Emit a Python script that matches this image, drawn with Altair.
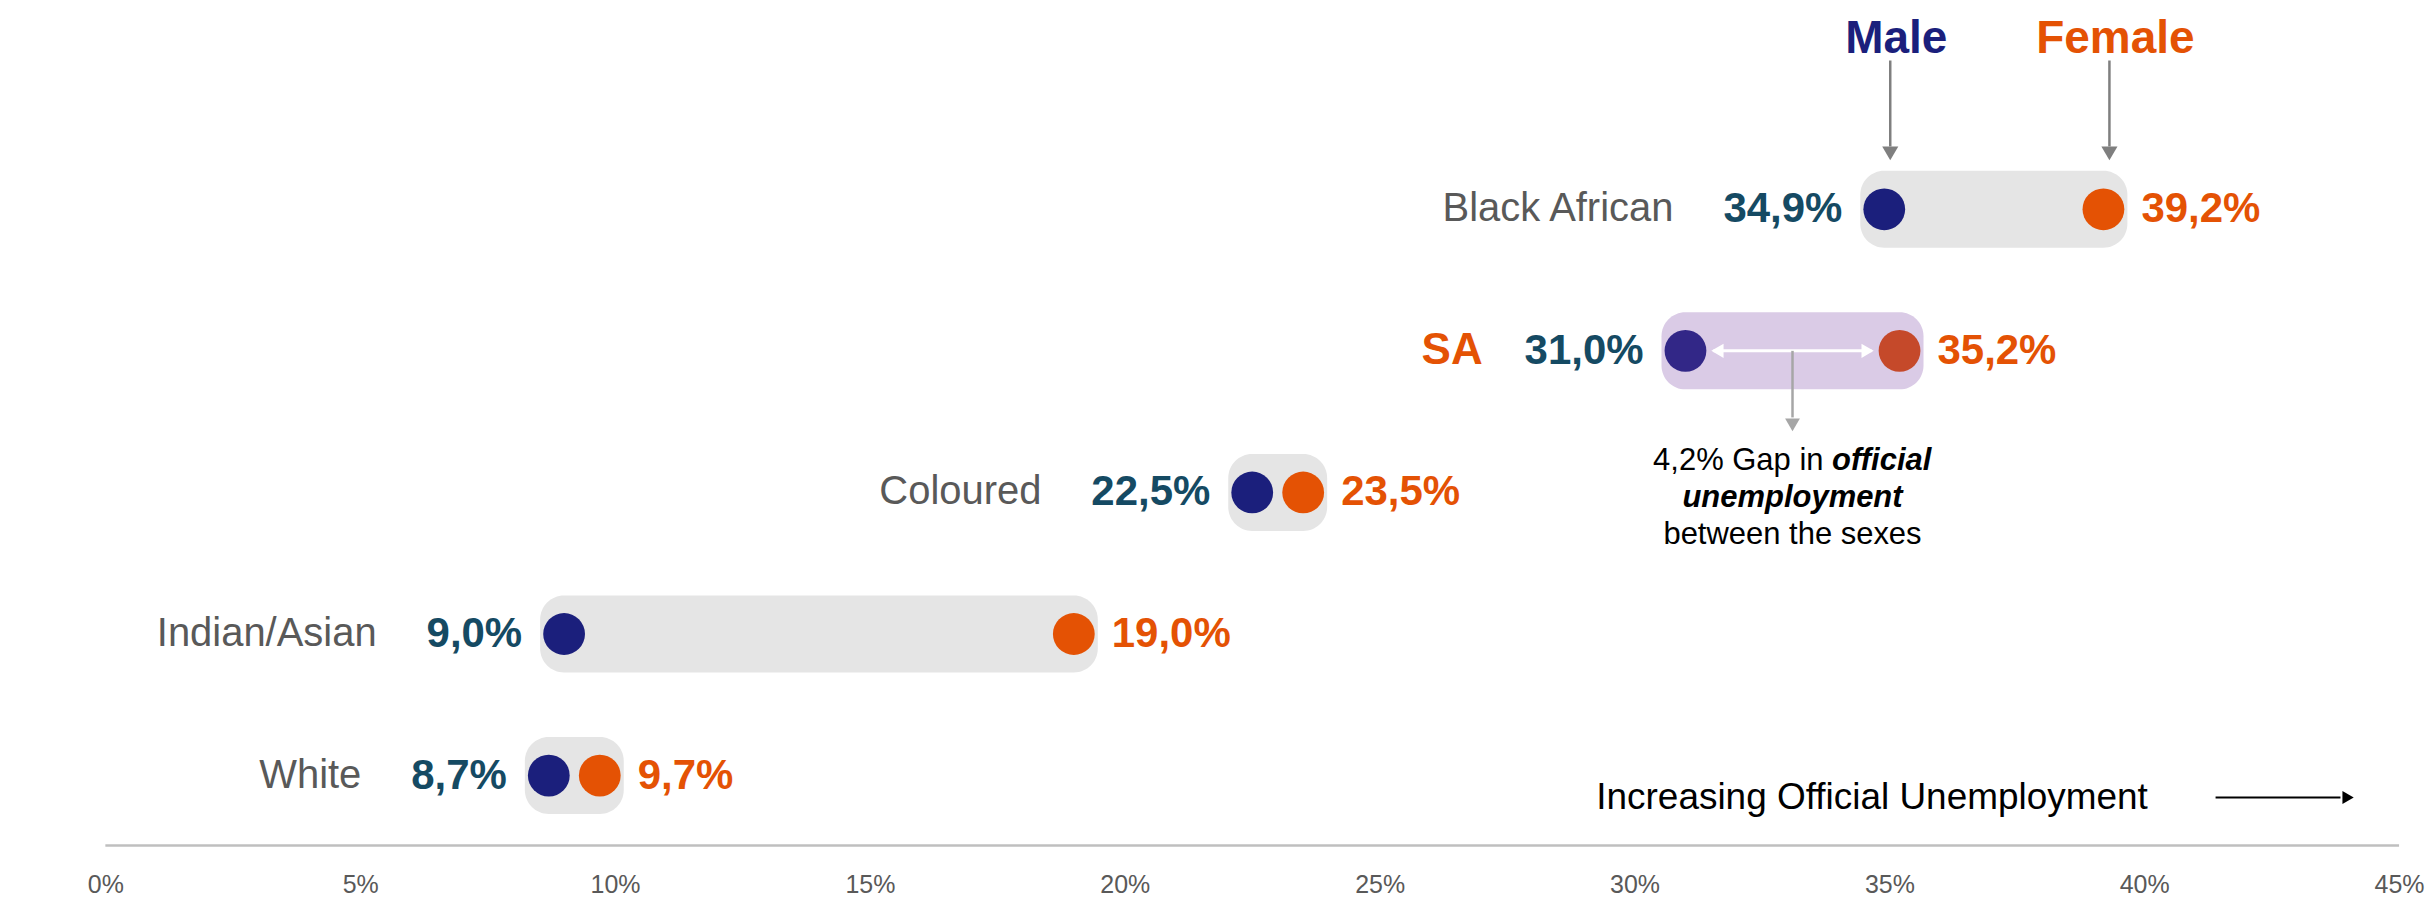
import altair as alt
import pandas as pd

# ---------------- data ----------------
groups = ["Black African", "SA", "Coloured", "Indian/Asian", "White"]
male = [34.9, 31.0, 22.5, 9.0, 8.7]
female = [39.2, 35.2, 23.5, 19.0, 9.7]
sexes = ["Male", "Female"]
tick_values = [0, 5, 10, 15, 20, 25, 30, 35, 40, 45]
gap_text = ["4,2% Gap in ", "official", "unemployment", "between the sexes"]
trend_text = "Increasing Official Unemployment"

# ---------------- layout / style ----------------
W, H = 2417, 856
XMIN, XMAX = -1.91, 45.45
YMIN, YMAX = -1.418, 4.621
PPU = W / (XMAX - XMIN)

BOLD = "Liberation Sans, Arial, Helvetica"
REG = "Liberation Sans, Arial, Helvetica"

C_MALE_DOT = "#1B1F7C"
C_FEMALE_DOT = "#E45204"
C_SA_MALE = "#322787"
C_SA_FEMALE = "#C5492A"
C_MALE_TXT = "#154A63"
C_FEMALE_TXT = "#E45204"
C_PILL = "#E5E5E5"
C_SA_PILL = "#DACBE6"
C_CAT = "#595959"

VAL_SIZE = 42
BOLD_W = {"0": .556, "1": .556, "2": .556, "3": .556, "4": .556, "5": .556,
          "6": .556, "7": .556, "8": .556, "9": .556, ",": .278, "%": .889}
ARIAL_W = {" ": .278, "%": .889, ",": .278, "4": .556, "2": .556, "G": .778, "a": .556,
           "p": .556, "i": .222, "n": .556}
ARIAL_BI_W = {"o": .611, "f": .333, "i": .278, "c": .556, "a": .556, "l": .278}


def tw(s, table, size):
    return sum(table.get(ch, .55) for ch in s) * size


def fmt(v):
    return f"{v:.1f}".replace(".", ",") + "%"


xscale = alt.Scale(domain=[XMIN, XMAX], nice=False, zero=False)
yscale = alt.Scale(domain=[YMIN, YMAX], reverse=True, nice=False, zero=False)
xaxis = alt.Axis(values=tick_values, labelExpr="datum.value + '%'", domain=False,
                 ticks=False, tickSize=0, grid=False, labelFontSize=25,
                 labelColor="#595959", labelFont=REG, labelPadding=9,
                 title=None, labelFlush=False)


def X(f):
    return alt.X(f, type="quantitative", scale=xscale, axis=xaxis)


def Y(f):
    return alt.Y(f, type="quantitative", scale=yscale, axis=None)


rows = pd.DataFrame({"group": groups, "male": male, "female": female})
rows["row"] = range(len(groups))
rows["male_label"] = [fmt(v) for v in male]
rows["female_label"] = [fmt(v) for v in female]
rows["y_lo"] = rows["row"] - 0.272
rows["y_hi"] = rows["row"] + 0.272
rows["pill"] = [C_SA_PILL if g == "SA" else C_PILL for g in groups]
rows["mid"] = (rows["male"] + rows["female"]) / 2
rows["cat_x"] = [m - (42 + tw(fmt(m), BOLD_W, VAL_SIZE) + (42 if g == "SA" else 50)) / PPU
                 for g, m in zip(groups, male)]

dots = pd.DataFrame({
    "group": [g for g in groups for _ in sexes],
    "sex": [s for _ in groups for s in sexes],
    "value": [v for pair in zip(male, female) for v in pair],
    "row": [i for i in range(len(groups)) for _ in sexes],
})
dots["color"] = [
    (C_SA_MALE if s == "Male" else C_SA_FEMALE) if g == "SA" else
    (C_MALE_DOT if s == "Male" else C_FEMALE_DOT)
    for g, s in zip(dots["group"], dots["sex"])
]

heads = pd.DataFrame({"sex": sexes, "x": [male[0], female[0]],
                      "color": [C_MALE_DOT, C_FEMALE_DOT]})
heads["y_text"] = -1.2
heads["y_a0"] = -1.051
heads["y_a1"] = -0.444
heads["y_tip"] = -0.395

sa = rows[rows["group"] == "SA"].copy()
sa["a_end"] = sa["row"] + 0.47
sa["a_tip"] = sa["row"] + 0.523
sa["l1"] = sa["row"] + 0.778
sa["l2"] = sa["row"] + 1.039
sa["l3"] = sa["row"] + 1.300

trend = pd.DataFrame({"x_text": [29.25], "x0": [41.4], "x1": [43.85], "x_tip": [44.0],
                      "y": [4.155], "text": [trend_text]})
axis_line = pd.DataFrame({"x0": [tick_values[0]], "x1": [tick_values[-1]], "y": [4.494]})

# ---------------- layers ----------------
pills = alt.Chart(rows).mark_rect(cornerRadius=24, xOffset=-24, x2Offset=24).encode(
    x=X("male"), x2="female", y=Y("y_lo"), y2="y_hi",
    color=alt.Color("pill:N", scale=None))

dot_layer = alt.Chart(dots).mark_circle(size=1750, opacity=1).encode(
    x=X("value"), y=Y("row"), color=alt.Color("color:N", scale=None))

male_lbl = alt.Chart(rows).mark_text(font=BOLD, fontWeight="bold", fontSize=VAL_SIZE,
                                     align="right", baseline="middle", dx=-42,
                                     color=C_MALE_TXT).encode(
    x=X("male"), y=Y("row"), text="male_label:N")

female_lbl = alt.Chart(rows).mark_text(font=BOLD, fontWeight="bold", fontSize=VAL_SIZE,
                                       align="left", baseline="middle", dx=38,
                                       color=C_FEMALE_TXT).encode(
    x=X("female"), y=Y("row"), text="female_label:N")

cat_lbl = alt.Chart(rows).transform_filter("datum.group != 'SA'").mark_text(
    font=REG, fontSize=40, align="right", baseline="middle", color=C_CAT).encode(
    x=X("cat_x"), y=Y("row"), text="group:N")

sa_lbl = alt.Chart(rows).transform_filter("datum.group == 'SA'").mark_text(
    font=REG, fontWeight="bold", fontSize=44, align="right", baseline="middle",
    color=C_FEMALE_TXT).encode(x=X("cat_x"), y=Y("row"), text="group:N")

head_txt = alt.Chart(heads).mark_text(font=BOLD, fontWeight="bold", fontSize=46,
                                      baseline="middle", dx=12).encode(
    x=X("x"), y=Y("y_text"), text="sex:N", color=alt.Color("color:N", scale=None))
head_rule = alt.Chart(heads).mark_rule(color="#7F7F7F", strokeWidth=2.5, xOffset=6).encode(
    x=X("x"), y=Y("y_a0"), y2="y_a1")
head_tip = alt.Chart(heads).mark_point(shape="triangle-down", filled=True, size=260,
                                       color="#7F7F7F", opacity=1, xOffset=6).encode(
    x=X("x"), y=Y("y_tip"))

sa_rule = alt.Chart(sa).mark_rule(color="white", strokeWidth=3, xOffset=28,
                                  x2Offset=-28).encode(x=X("male"), x2="female", y=Y("row"))
sa_tip_l = alt.Chart(sa).mark_point(shape="triangle-left", filled=True, size=200,
                                    color="white", opacity=1, xOffset=32).encode(
    x=X("male"), y=Y("row"))
sa_tip_r = alt.Chart(sa).mark_point(shape="triangle-right", filled=True, size=200,
                                    color="white", opacity=1, xOffset=-32).encode(
    x=X("female"), y=Y("row"))
sa_down = alt.Chart(sa).mark_rule(color="#A6A6A6", strokeWidth=2.5).encode(
    x=X("mid"), y=Y("row"), y2="a_end")
sa_down_tip = alt.Chart(sa).mark_point(shape="triangle-down", filled=True, size=220,
                                       color="#A6A6A6", opacity=1).encode(
    x=X("mid"), y=Y("a_tip"))

GAP_SIZE = 31
w1 = tw(gap_text[0].rstrip(), ARIAL_W, GAP_SIZE) + ARIAL_W[" "] * GAP_SIZE
w2 = tw(gap_text[1], ARIAL_BI_W, GAP_SIZE)
start = -(w1 + w2) / 2
g1a = alt.Chart(sa).mark_text(font=REG, fontSize=GAP_SIZE, align="left", baseline="middle",
                              dx=start, color="black", text=gap_text[0].rstrip()).encode(
    x=X("mid"), y=Y("l1"))
g1b = alt.Chart(sa).mark_text(font=REG, fontSize=GAP_SIZE, fontWeight="bold",
                              fontStyle="italic", align="left", baseline="middle",
                              dx=start + w1, color="black", text=gap_text[1]).encode(
    x=X("mid"), y=Y("l1"))
g2 = alt.Chart(sa).mark_text(font=REG, fontSize=GAP_SIZE, fontWeight="bold",
                             fontStyle="italic", align="center", baseline="middle",
                             color="black", text=gap_text[2]).encode(x=X("mid"), y=Y("l2"))
g3 = alt.Chart(sa).mark_text(font=REG, fontSize=GAP_SIZE, align="center",
                             baseline="middle", color="black",
                             text=gap_text[3]).encode(x=X("mid"), y=Y("l3"))

trend_txt = alt.Chart(trend).mark_text(font=REG, fontSize=37, align="left",
                                       baseline="middle", color="black").encode(
    x=X("x_text"), y=Y("y"), text="text:N")
trend_rule = alt.Chart(trend).mark_rule(color="black", strokeWidth=2).encode(
    x=X("x0"), x2="x1", y=Y("y"))
trend_tip = alt.Chart(trend).mark_point(shape="triangle-right", filled=True, size=170,
                                        color="black", opacity=1).encode(
    x=X("x_tip"), y=Y("y"))

axis_rule = alt.Chart(axis_line).mark_rule(color="#BFBFBF", strokeWidth=2.5).encode(
    x=X("x0"), x2="x1", y=Y("y"))

chart = alt.layer(
    axis_rule, pills, sa_rule, sa_tip_l, sa_tip_r, sa_down, sa_down_tip, dot_layer,
    male_lbl, female_lbl, cat_lbl, sa_lbl, head_txt, head_rule, head_tip,
    g1a, g1b, g2, g3, trend_txt, trend_rule, trend_tip,
).properties(width=W, height=H, padding=0, background="white").configure_view(
    strokeWidth=0)

chart.save("out.html", embed_options={"renderer": "svg", "actions": False})
